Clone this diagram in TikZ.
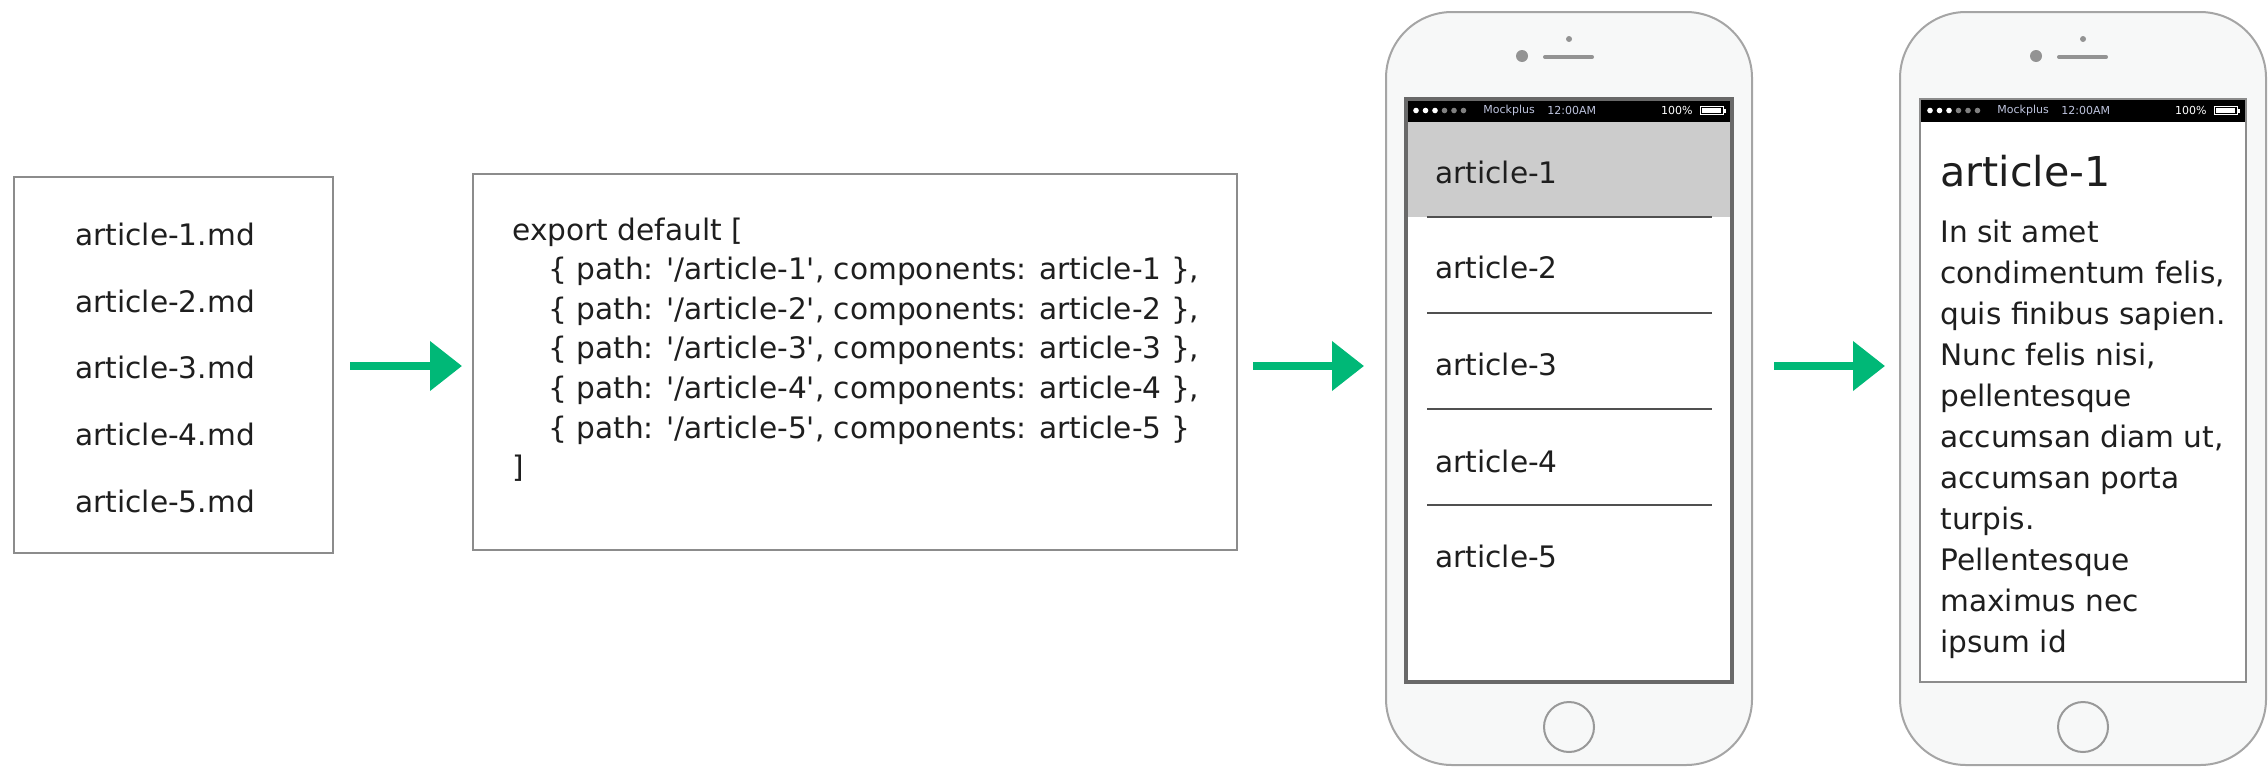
\documentclass[tikz,border=0pt]{standalone}
\usepackage{fontspec}
\setmainfont{DejaVu Sans}
\usetikzlibrary{arrows.meta,calc}
\definecolor{arrowgreen}{RGB}{0,184,119}
\definecolor{boxline}{RGB}{140,140,140}
\definecolor{txt}{RGB}{30,30,30}
\definecolor{phonefill}{RGB}{247,248,248}
\definecolor{phoneline}{RGB}{165,165,165}
\definecolor{hlgray}{RGB}{204,204,204}
\definecolor{scrline}{RGB}{105,105,105}
\definecolor{scrlinelight}{RGB}{140,140,140}
\definecolor{sepline}{RGB}{80,80,80}
\definecolor{stattxt}{RGB}{190,196,222}
\newcommand{\mainsize}{\fontsize{14.8pt}{18pt}\selectfont}
\newcommand{\titlesize}{\fontsize{20.6pt}{24pt}\selectfont}
\newcommand{\statsize}{\fontsize{5.5pt}{6pt}\selectfont}
\newcommand{\sq}{\textquotesingle}
\newcommand{\mystatusbar}[1]{%
  \fill[black] (-163,-289.5) rectangle (163,-266.5);
  \foreach \k in {0,1,2} \fill[white] ({-153+9.5*\k},-278) circle (2.8);
  \foreach \k in {3,4,5} \fill[gray] ({-153+9.5*\k},-278) circle (2.8);
  \node[stat, anchor=west] (#1mock) at (-86,-278) {Mockplus};
  \node[stat, anchor=west] (#1time) at (-22,-278) {12:00AM};
  \node[stat, anchor=east, text=white] (#1pct) at (124,-278) {100\%};
  \draw[white, line width=0.5pt] (131,-282) rectangle (154,-274);
  \fill[white] (133,-280.5) rectangle (152,-275.5);
  \fill[white] (154.5,-280) rectangle (156.5,-276);
}
\newcommand{\myphonetop}{%
  \fill[gray!85] (-47,-332.5) circle (6);
  \draw[gray!85, line width=2pt, line cap=round] (-24,-331.5) -- (23,-331.5);
  \fill[gray!85] (0,-349.5) circle (3);
}
\begin{document}
\begin{tikzpicture}[x=0.5pt,y=-0.5pt,
  box/.style={draw=boxline, line width=1.25pt, fill=white, inner sep=0pt, outer sep=0pt},
  txtnode/.style={inner sep=0pt, text=txt, font=\mainsize, anchor=base west},
  titlenode/.style={inner sep=0pt, text=txt, font=\titlesize, anchor=base west},
  stat/.style={inner sep=0pt, text=stattxt, font=\statsize},
  arr/.style={draw=arrowgreen, line width=3.75pt, -{Triangle[length=16pt,width=24pt]}},
  phone/.style={draw=phoneline, line width=1pt, fill=phonefill, rounded corners=33pt,
    inner sep=0pt, outer sep=0pt, minimum width=183pt, minimum height=376.5pt},
  screen/.style={fill=white, inner sep=0pt, outer sep=0pt, minimum width=163pt, minimum height=291.5pt},
  homebtn/.style={draw=gray!80, line width=1pt, circle, inner sep=0pt, minimum size=25pt}
]
\useasboundingbox (0,0) rectangle (2268,766);
\coordinate (ay) at (0,366);

% box 1
\node[box, minimum width=159.5pt, minimum height=188pt] (b1) at (173.5,365) {};
\foreach \i/\y in {1/245,2/312,3/378,4/445,5/512}
  \node[txtnode] (f\i) at (75,\y) {article-\i.md};

% box 2
\node[box, minimum width=382pt, minimum height=188pt] (b2) at (855,362) {};
\node[txtnode] (c0) at (512,240) {export default [};
\foreach \i in {1,...,4}
  \node[txtnode] (c\i) at (548,{240+39.6*\i}) {\{ path: \sq/article-\i\sq, components: article-\i\ \},};
\node[txtnode] (c5) at (548,438) {\{ path: \sq/article-5\sq, components: article-5 \}};
\node[txtnode] (c6) at (512,477.6) {]};

% phone 1
\begin{scope}[shift={(1569,388.5)}]
  \node[phone] (ph1) at (0,0) {};
  \node[screen] (s1) at (0,2) {};
  \fill[hlgray] (-163,-266.5) rectangle (163,-171.5);
  \mystatusbar{pa}
  \foreach \y in {-171.5,-75.5,20.5,116.5}
    \draw[sepline, line width=1pt] (-142,\y) -- (143,\y);
  \foreach \i/\y in {1/-205.5,2/-110.5,3/-13.5,4/83.5,5/178.5}
    \node[txtnode] (l\i) at (-134,\y) {article-\i};
  \draw[scrline, line width=1.75pt] (s1.north west) rectangle (s1.south east);
  \myphonetop
  \node[homebtn] (h1) at (0,338.5) {};
\end{scope}

% phone 2
\begin{scope}[shift={(2083,388.5)}]
  \node[phone] (ph2) at (0,0) {};
  \node[screen] (s2) at (0,2) {};
  \mystatusbar{pb}
  \node[titlenode] (ttl) at (-143,-202.5) {article-1};
  \foreach \t [count=\i] in {In sit amet,{condimentum felis,},quis finibus sapien.,{Nunc felis nisi,},pellentesque,{accumsan diam ut,},accumsan porta,turpis.,Pellentesque,maximus nec,ipsum id}
    \node[txtnode] (bd\i) at (-143,{-146.5+41*(\i-1)}) {\t};
  \draw[scrlinelight, line width=1pt] (s2.north west) rectangle (s2.south east);
  \myphonetop
  \node[homebtn] (h2) at (0,338.5) {};
\end{scope}

% arrows
\draw[arr, shorten <=8.5pt, shorten >=5.5pt] (b1.east |- ay) -- (b2.west |- ay);
\draw[arr, shorten <=8pt, shorten >=11pt] (b2.east |- ay) -- (ph1.west |- ay);
\draw[arr, shorten <=11pt, shorten >=7.5pt] (ph1.east |- ay) -- (ph2.west |- ay);
\end{tikzpicture}
\end{document}
